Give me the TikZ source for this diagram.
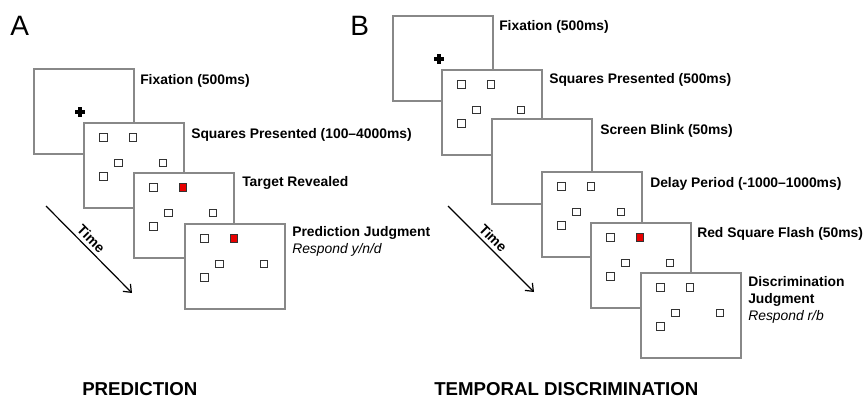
\documentclass[tikz,border=0pt]{standalone}
\usepackage{fontspec}
\setmainfont{Liberation Sans}
\usetikzlibrary{arrows.meta, calc}
\definecolor{framegray}{RGB}{136,136,136}
\definecolor{stimred}{RGB}{232,0,0}

% five squares of one stimulus screen, #2 = style of the second one
\newcommand{\stimset}[2]{%
  \node[stim] (#1-a) at ($(#1.north west)+(20.5,15.5)$) {};
  \node[#2]   (#1-b) at ($(#1.north west)+(50,15.5)$) {};
  \node[stim] (#1-c) at ($(#1.north west)+(35.5,41)$) {};
  \node[stim] (#1-d) at ($(#1.north west)+(80,41)$) {};
  \node[stim] (#1-e) at ($(#1.north west)+(20.5,54.5)$) {};
}
\newcommand{\fixcross}[1]{%
  \draw[line width=2.4pt] ($(#1.north west)+(42,44)$) -- ($(#1.north west)+(52,44)$);
  \draw[line width=2.4pt] ($(#1.north west)+(47,39)$) -- ($(#1.north west)+(47,49)$);
}

\begin{document}
\begin{tikzpicture}[x=0.75pt, y=-0.75pt, >={Straight Barb[length=5pt,width=8pt]},
  screen/.style={draw=framegray, line width=1.5pt, fill=white, minimum width=75pt, minimum height=63.75pt, anchor=north west, inner sep=0pt},
  stim/.style={draw=black!80, line width=0.75pt, fill=white, minimum size=5.6pt, inner sep=0pt},
  target/.style={stim, fill=stimred},
  lbl/.style={anchor=north west, inner sep=0pt, align=left, font=\fontsize{10.4}{12.75}\selectfont\bfseries},
  panel/.style={anchor=base west, inner sep=0pt, font=\fontsize{21}{24}\selectfont},
  title/.style={anchor=base west, inner sep=0pt, font=\fontsize{14}{16}\selectfont\bfseries}]
  \useasboundingbox (0,0) rectangle (863,397);

  % A: prediction
  \node[panel] (panelA) at (10,35) {A};
  \node[screen] (fixA) at (33,68) {};
  \fixcross{fixA}
  \node[lbl] (fixA-txt) at ($(fixA.north east)+(5,6)$) {Fixation (500ms)};
  \node[screen] (squaresA) at (83,122) {};
  \stimset{squaresA}{stim}
  \node[lbl] (squaresA-txt) at ($(squaresA.north east)+(6,6)$) {Squares Presented (100--4000ms)};
  \node[screen] (targetA) at (133,172) {};
  \stimset{targetA}{target}
  \node[lbl] (targetA-txt) at ($(targetA.north east)+(7,4)$) {Target Revealed};
  \node[screen] (judgeA) at (184,223) {};
  \stimset{judgeA}{target}
  \node[lbl] (judgeA-txt) at ($(judgeA.north east)+(6,3)$) {Prediction Judgment\\\mdseries\itshape Respond y/n/d};
  \coordinate (timeA0) at (46,206);
  \coordinate (timeA1) at (132,293);
  \draw[->, line width=0.9pt] (timeA0) -- (timeA1) node[pos=0.45, sloped, above, inner sep=2.5pt, font=\fontsize{10.5}{12}\selectfont\bfseries] {Time};
  \node[title] (titleA) at (82,395) {PREDICTION};

  % B: temporal discrimination
  \node[panel] (panelB) at (350,35) {B};
  \node[screen] (fixB) at (392,15) {};
  \fixcross{fixB}
  \node[lbl] (fixB-txt) at ($(fixB.north east)+(5,5)$) {Fixation (500ms)};
  \node[screen] (squaresB) at (441,69) {};
  \stimset{squaresB}{stim}
  \node[lbl] (squaresB-txt) at ($(squaresB.north east)+(6,4)$) {Squares Presented (500ms)};
  \node[screen] (blinkB) at (491,118) {};
  \node[lbl] (blinkB-txt) at ($(blinkB.north east)+(7,6)$) {Screen Blink (50ms)};
  \node[screen] (delayB) at (541,171) {};
  \stimset{delayB}{stim}
  \node[lbl] (delayB-txt) at ($(delayB.north east)+(7,6)$) {Delay Period (-1000--1000ms)};
  \node[screen] (flashB) at (590,222) {};
  \stimset{flashB}{target}
  \node[lbl] (flashB-txt) at ($(flashB.north east)+(5,5)$) {Red Square Flash (50ms)};
  \node[screen] (judgeB) at (640,272) {};
  \stimset{judgeB}{stim}
  \node[lbl] (judgeB-txt) at ($(judgeB.north east)+(6,4)$) {Discrimination\\Judgment\\\mdseries\itshape Respond r/b};
  \coordinate (timeB0) at (448,206);
  \coordinate (timeB1) at (534,292);
  \draw[->, line width=0.9pt] (timeB0) -- (timeB1) node[pos=0.45, sloped, above, inner sep=2.5pt, font=\fontsize{10.5}{12}\selectfont\bfseries] {Time};
  \node[title] (titleB) at (434,395) {TEMPORAL DISCRIMINATION};
\end{tikzpicture}
\end{document}
